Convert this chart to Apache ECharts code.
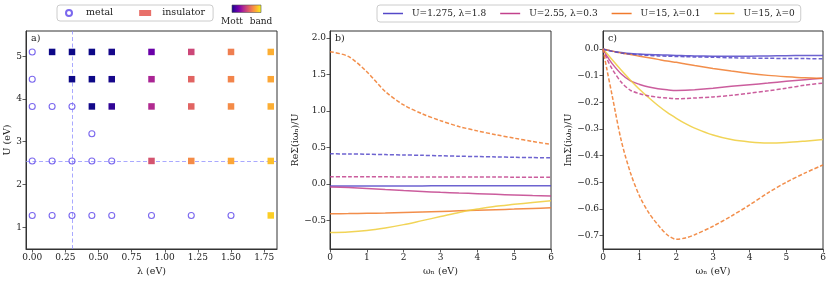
<!DOCTYPE html>
<html><head><meta charset="utf-8">
<script src="https://cdn.jsdelivr.net/npm/echarts@6/dist/echarts.min.js"></script>
<style>html,body{margin:0;padding:0;background:#fff}#c{width:830px;height:282px}</style>
</head><body><div id="c"></div><script>
// ---------- data ----------
const lambdaTicks = [0, 0.25, 0.5, 0.75, 1.0, 1.25, 1.5, 1.75];
const uTicks = [1, 2, 3, 4, 5];
const reTicks = [-0.5, 0, 0.5, 1.0, 1.5, 2.0];
const imTicks = [-0.7, -0.6, -0.5, -0.4, -0.3, -0.2, -0.1, 0];

const metalLambda = [0, 0, 0, 0.15, 0.3, 0.45, 0, 0.15, 0.3, 0.45, 0.6, 0, 0.15, 0.3, 0.45, 0.6, 0.9, 1.2, 1.5];
const metalU      = [5.1, 4.4625, 3.825, 3.825, 3.825, 3.1875, 2.55, 2.55, 2.55, 2.55, 2.55, 1.275, 1.275, 1.275, 1.275, 1.275, 1.275, 1.275, 1.275];

const insLambda = [0.15, 0.3, 0.45, 0.6, 0.9, 1.2, 1.5, 1.8,
                   0.3, 0.45, 0.6, 0.9, 1.2, 1.5, 1.8,
                   0.45, 0.6, 0.9, 1.2, 1.5, 1.8,
                   0.9, 1.2, 1.5, 1.8,
                   1.8];
const insU = [5.1, 5.1, 5.1, 5.1, 5.1, 5.1, 5.1, 5.1,
              4.4625, 4.4625, 4.4625, 4.4625, 4.4625, 4.4625, 4.4625,
              3.825, 3.825, 3.825, 3.825, 3.825, 3.825,
              2.55, 2.55, 2.55, 2.55,
              1.275];
// Mott (0) -> band (1) character
const insBand = [0.0, 0.0, 0.0, 0.02, 0.2, 0.5, 0.68, 0.82,
                 0.0, 0.0, 0.02, 0.38, 0.6, 0.7, 0.8,
                 0.01, 0.07, 0.4, 0.6, 0.72, 0.82,
                 0.54, 0.72, 0.8, 0.86,
                 0.9];
const markLambda = 0.3;
const markU = 2.55;

const seriesNames = ['U=1.275, λ=1.8', 'U=2.55, λ=0.3', 'U=15, λ=0.1', 'U=15, λ=0'];

const omegaB = [0, 0.5, 1, 1.5, 2, 2.5, 3, 3.5, 4, 4.5, 5, 5.5, 6];
const reBlueSolid   = [-0.030,-0.030,-0.030,-0.030,-0.029,-0.029,-0.028,-0.028,-0.028,-0.027,-0.027,-0.027,-0.027];
const reBlueDashed  = [0.410,0.409,0.405,0.400,0.395,0.390,0.384,0.378,0.373,0.368,0.363,0.359,0.355];
const rePinkSolid   = [-0.045,-0.052,-0.064,-0.080,-0.093,-0.105,-0.117,-0.127,-0.136,-0.145,-0.153,-0.161,-0.168];
const rePinkDashed  = [0.096,0.096,0.095,0.095,0.094,0.094,0.093,0.093,0.092,0.092,0.091,0.091,0.090];
const reOrangeSolid = [-0.410,-0.409,-0.405,-0.400,-0.394,-0.387,-0.379,-0.371,-0.363,-0.355,-0.347,-0.338,-0.330];
const reOrangeDashed= [1.81,1.745,1.535,1.265,1.08,0.96,0.865,0.785,0.725,0.672,0.625,0.58,0.54];
const reYellowSolid = [-0.668,-0.660,-0.640,-0.605,-0.560,-0.505,-0.450,-0.393,-0.347,-0.307,-0.282,-0.257,-0.232];

const omegaC = [0, 0.1, 0.25, 0.5, 0.75, 1, 1.25, 1.5, 1.75, 2, 2.25, 2.5, 3, 3.5, 4, 4.5, 5, 5.5, 6];
const imBlueSolid   = [0,-0.004,-0.008,-0.013,-0.017,-0.019,-0.021,-0.022,-0.023,-0.024,-0.025,-0.026,-0.027,-0.0272,-0.027,-0.026,-0.025,-0.0245,-0.024];
const imBlueDashed  = [0,-0.004,-0.009,-0.015,-0.019,-0.022,-0.024,-0.026,-0.027,-0.028,-0.029,-0.030,-0.031,-0.033,-0.034,-0.035,-0.0355,-0.036,-0.037];
const imPinkSolid   = [0,-0.025,-0.055,-0.094,-0.120,-0.133,-0.143,-0.149,-0.153,-0.1555,-0.155,-0.153,-0.147,-0.140,-0.134,-0.128,-0.121,-0.115,-0.110];
const imPinkDashed  = [0,-0.035,-0.075,-0.125,-0.155,-0.168,-0.176,-0.181,-0.184,-0.1865,-0.186,-0.184,-0.180,-0.174,-0.166,-0.157,-0.147,-0.136,-0.128];
const imOrangeSolid = [0,-0.003,-0.008,-0.015,-0.021,-0.027,-0.033,-0.039,-0.045,-0.050,-0.056,-0.062,-0.073,-0.083,-0.092,-0.099,-0.104,-0.108,-0.110];
const imOrangeDashed= [0,-0.072,-0.175,-0.345,-0.465,-0.553,-0.615,-0.660,-0.697,-0.714,-0.709,-0.697,-0.665,-0.627,-0.585,-0.540,-0.500,-0.466,-0.435];
const imYellowSolid = [0,-0.016,-0.040,-0.080,-0.117,-0.152,-0.183,-0.212,-0.238,-0.260,-0.280,-0.297,-0.323,-0.340,-0.349,-0.353,-0.351,-0.346,-0.340];

// ---------- styling / helpers ----------
const FONT = 'DejaVu Serif';
const plasmaStops = ['#0d0887','#41049d','#6a00a8','#8f0da4','#b12a90','#cc4778','#e16462','#f2844b','#fca636','#fcce25','#f0f921'];
function hex2rgb(h){return [parseInt(h.substr(1,2),16),parseInt(h.substr(3,2),16),parseInt(h.substr(5,2),16)];}
function plasma(t){
  t = Math.max(0, Math.min(1, t));
  const p = t * (plasmaStops.length - 1), i = Math.min(Math.floor(p), plasmaStops.length - 2), f = p - i;
  const a = hex2rgb(plasmaStops[i]), b = hex2rgb(plasmaStops[i+1]);
  return 'rgb(' + a.map((v,k)=>Math.round(v + (b[k]-v)*f)).join(',') + ')';
}
const lineColors = ['#5448c8', '#c2418c', '#f07a2c', '#efcc3a'];
const zip = (xs, ys) => xs.map((x,i)=>[x, ys[i]]);
const minus = s => String(s).replace('-', '\u2212');

const axisCommon = {
  axisLine: {show: true, onZero: false, lineStyle: {color: '#333', width: 1}},
  axisTick: {show: true, inside: false, length: 3.5, lineStyle: {color: '#333', width: 0.8}},
  splitLine: {show: false},
  nameTextStyle: {fontFamily: FONT, fontSize: 9.5, color: '#222'}
};
function xAxis(gi, min, max, ticks, fmt, name){
  return Object.assign({}, axisCommon, {
    type: 'value', gridIndex: gi, min: min, max: max, name: name,
    nameLocation: 'middle', nameGap: 18,
    axisTick: Object.assign({}, axisCommon.axisTick, {customValues: ticks}),
    axisLabel: {customValues: ticks, formatter: fmt, fontFamily: FONT, fontSize: 9, color: '#222', margin: 4}
  });
}
function yAxis(gi, min, max, ticks, fmt, name, gap){
  return Object.assign({}, axisCommon, {
    type: 'value', gridIndex: gi, min: min, max: max, name: name,
    nameLocation: 'middle', nameGap: gap, nameRotate: 90,
    axisTick: Object.assign({}, axisCommon.axisTick, {customValues: ticks}),
    axisLabel: {customValues: ticks, formatter: fmt, fontFamily: FONT, fontSize: 9, color: '#222', margin: 4}
  });
}
function lineSeries(name, gi, xs, ys, color, dashed){
  return {
    type: 'line', name: name, xAxisIndex: gi, yAxisIndex: gi,
    data: zip(xs, ys), symbol: 'none', smooth: 0.3, silent: true,
    lineStyle: {color: color, width: 1.5, opacity: 0.85, type: dashed ? [4, 2] : 'solid'},
    itemStyle: {color: color}
  };
}

const chart = echarts.init(document.getElementById('c'), null, {renderer: 'canvas'});
const option = {
  animation: false,
  backgroundColor: '#fff',
  grid: [
    {left: 26, top: 31, width: 251, height: 222, show: true, borderColor: '#333', borderWidth: 1, backgroundColor: 'transparent'},
    {left: 330, top: 31, width: 221, height: 222, show: true, borderColor: '#333', borderWidth: 1, backgroundColor: 'transparent'},
    {left: 603, top: 31, width: 220, height: 222, show: true, borderColor: '#333', borderWidth: 1, backgroundColor: 'transparent'}
  ],
  xAxis: [
    xAxis(0, -0.047, 1.847, lambdaTicks, v => v.toFixed(2), 'λ (eV)'),
    Object.assign(xAxis(1, 0, 6, null, v => String(v), 'ωₙ (eV)'), {interval: 1}),
    Object.assign(xAxis(2, 0, 6, null, v => String(v), 'ωₙ (eV)'), {interval: 1})
  ],
  yAxis: [
    yAxis(0, 0.49, 5.59, uTicks, v => String(v), 'U (eV)', 12),
    yAxis(1, -0.894, 2.094, reTicks, v => minus(v.toFixed(1)), 'ReΣ(iωₙ)/U', 26),
    yAxis(2, -0.7505, 0.0675, imTicks, v => minus(v.toFixed(1)), 'ImΣ(iωₙ)/U', 28)
  ],
  legend: [
    {
      left: 57, top: 5, padding: [3, 8, 3, 8], itemGap: 26, itemWidth: 12, itemHeight: 6,
      borderColor: '#ccc', borderWidth: 1, borderRadius: 3,
      textStyle: {fontFamily: FONT, fontSize: 9.5, color: '#222', padding: [0,0,0,6]},
      data: ['metal', 'insulator']
    },
    {
      left: 377, top: 5, padding: [4, 6, 4, 6], itemGap: 14, itemWidth: 20, itemHeight: 1.5,
      icon: 'rect',
      borderColor: '#ccc', borderWidth: 1, borderRadius: 3,
      textStyle: {fontFamily: FONT, fontSize: 9, color: '#222', padding: [0,0,0,4]},
      data: seriesNames
    }
  ],
  series: [
    {
      type: 'line', name: 'guides', xAxisIndex: 0, yAxisIndex: 0, silent: true, z: 1,
      data: [], symbol: 'none',
      markLine: {
        silent: true, symbol: 'none', label: {show: false}, z: 1,
        lineStyle: {color: '#8c8cff', type: [4, 2.5], width: 1, opacity: 0.75},
        data: [{xAxis: markLambda}, {yAxis: markU}]
      }
    },
    {
      type: 'scatter', name: 'metal', xAxisIndex: 0, yAxisIndex: 0, silent: true, z: 3,
      data: zip(metalLambda, metalU), symbol: 'circle', symbolSize: 6,
      itemStyle: {color: 'rgba(0,0,0,0)', borderColor: '#7b68ee', borderWidth: 1.1, opacity: 1}
    },
    {
      type: 'scatter', name: 'insulator', xAxisIndex: 0, yAxisIndex: 0, silent: true, z: 3,
      symbol: 'rect', symbolSize: 6.5,
      itemStyle: {color: '#e8706a', opacity: 1},
      data: insLambda.map((l, i) => ({value: [l, insU[i]], itemStyle: {color: plasma(insBand[i]), opacity: 1}}))
    },
    lineSeries(seriesNames[0], 1, omegaB, reBlueSolid, lineColors[0], false),
    lineSeries(seriesNames[1], 1, omegaB, rePinkSolid, lineColors[1], false),
    lineSeries(seriesNames[2], 1, omegaB, reOrangeSolid, lineColors[2], false),
    lineSeries(seriesNames[3], 1, omegaB, reYellowSolid, lineColors[3], false),
    lineSeries('b1d', 1, omegaB, reBlueDashed, lineColors[0], true),
    lineSeries('b2d', 1, omegaB, rePinkDashed, lineColors[1], true),
    lineSeries('b3d', 1, omegaB, reOrangeDashed, lineColors[2], true),
    lineSeries('c1', 2, omegaC, imBlueSolid, lineColors[0], false),
    lineSeries('c2', 2, omegaC, imPinkSolid, lineColors[1], false),
    lineSeries('c3', 2, omegaC, imOrangeSolid, lineColors[2], false),
    lineSeries('c4', 2, omegaC, imYellowSolid, lineColors[3], false),
    lineSeries('c1d', 2, omegaC, imBlueDashed, lineColors[0], true),
    lineSeries('c2d', 2, omegaC, imPinkDashed, lineColors[1], true),
    lineSeries('c3d', 2, omegaC, imOrangeDashed, lineColors[2], true)
  ],
  graphic: [
    {type: 'text', left: 31, top: 34, style: {text: 'a)', font: '9.5px "DejaVu Serif"', fill: '#222'}},
    {type: 'text', left: 335, top: 34, style: {text: 'b)', font: '9.5px "DejaVu Serif"', fill: '#222'}},
    {type: 'text', left: 608, top: 34, style: {text: 'c)', font: '9.5px "DejaVu Serif"', fill: '#222'}},
    {type: 'rect', shape: {x: 232, y: 5, width: 29, height: 7.5},
     style: {fill: new echarts.graphic.LinearGradient(0, 0, 1, 0,
        plasmaStops.map((c, i) => ({offset: i / (plasmaStops.length - 1), color: c}))),
        stroke: '#555', lineWidth: 0.6}},
    {type: 'text', x: 232, y: 17, style: {text: 'Mott', font: '9px "DejaVu Serif"', fill: '#222', align: 'center'}},
    {type: 'text', x: 261, y: 17, style: {text: 'band', font: '9px "DejaVu Serif"', fill: '#222', align: 'center'}}
  ]
};
chart.setOption(option);
</script></body></html>
